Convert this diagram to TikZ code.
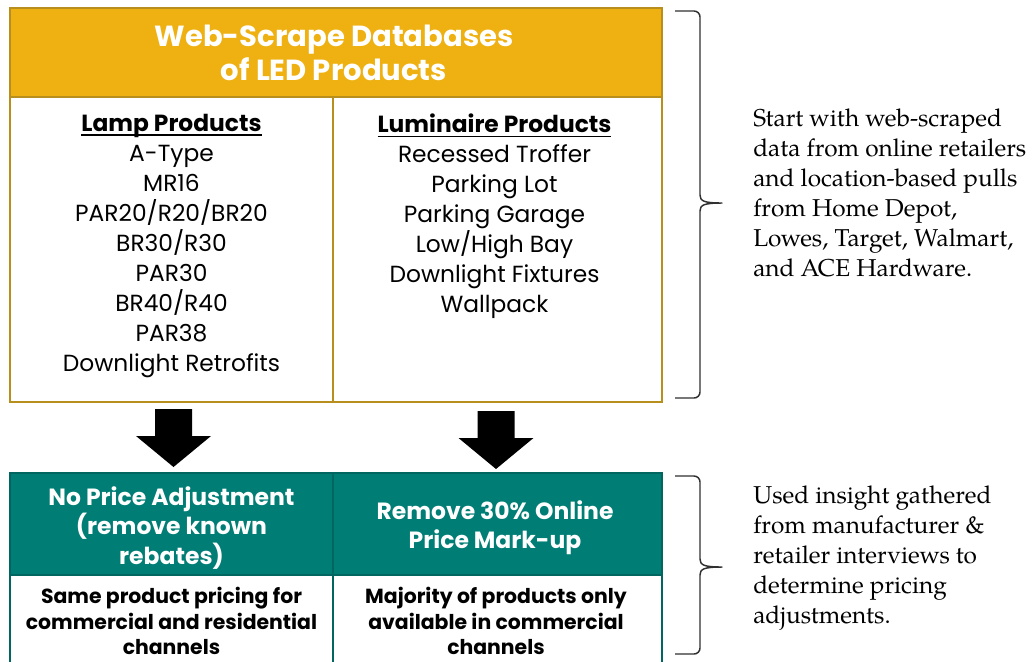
\documentclass[tikz,border=0pt]{standalone}
\usepackage{fontspec}
\setsansfont{Poppins}
\newfontfamily\pal[Extension=.otf,UprightFont=*-regular,BoldFont=*-bold,ItalicFont=*-italic]{texgyrepagella}
\definecolor{goldfill}{HTML}{EEB111}
\definecolor{goldline}{HTML}{B88E1C}
\definecolor{tealfill}{HTML}{007D75}
\definecolor{tealline}{HTML}{00665F}
\definecolor{bracecol}{HTML}{303030}
\newcommand\myul[1]{\setbox0\hbox{#1}\rlap{\rule[-3.4pt]{\wd0}{1.2pt}}\box0}
\tikzset{
  hdrtext/.style={text=white, align=center, inner sep=0pt, font=\sffamily\bfseries\fontsize{21.8}{26}\selectfont},
  listtext/.style={text=black, align=center, inner sep=0pt, font=\sffamily\fontsize{17.5}{22.5}\selectfont},
  tealtext/.style={text=white, align=center, inner sep=0pt, font=\sffamily\bfseries\fontsize{17.6}{22}\selectfont},
  notetext/.style={text=black, align=center, inner sep=0pt, font=\sffamily\bfseries\fontsize{15.3}{19.1}\selectfont},
  sidetext/.style={text=black, align=left, inner sep=0pt, anchor=north west, font=\pal\fontsize{18.3}{22.5}\selectfont},
  goldborder/.style={draw=goldline, line width=2.2pt},
  tealborder/.style={draw=tealline, line width=2.2pt},
  bracket/.style={draw=bracecol, line width=1.1pt, line join=round},
  blockarrow/.pic={\fill[black] (-18.5,0) -- (18.5,0) -- (18.5,27) -- (37.5,27) -- (0,58) -- (-37.5,27) -- (-18.5,27) -- cycle;}
}
\begin{document}
\begin{tikzpicture}[x=0.75pt,y=-0.75pt]
\useasboundingbox (0,0) rectangle (1034,661);
\clip (0,0) rectangle (1034,661);
% ---------- top box ----------
\fill[goldfill] (10,8) rectangle (662,97);
\path[goldborder] (10,8) rectangle (662,402);
\path[goldborder] (10,97) -- (662,97);
\path[goldborder] (333,97) -- (333,402);
\node[hdrtext] (title) at (334,53) {Web-Scrape Databases\\of LED Products};
\node[listtext, anchor=north] (lamp) at (171.5,114) {\textbf{\myul{Lamp Products}}\\A-Type\\MR16\\PAR20/R20/BR20\\BR30/R30\\PAR30\\BR40/R40\\PAR38\\Downlight Retrofits};
\node[listtext, anchor=north] (lum) at (494.5,114) {\textbf{\myul{Luminaire Products}}\\Recessed Troffer\\Parking Lot\\Parking Garage\\Low/High Bay\\Downlight Fixtures\\Wallpack};
% ---------- arrows ----------
\coordinate (arrL) at (173.5,409);
\coordinate (arrR) at (496,411);
\pic at (arrL) {blockarrow};
\pic at (arrR) {blockarrow};
% ---------- bottom box ----------
\fill[tealfill] (10,473) rectangle (662,575);
\path[tealborder] (10,473) rectangle (662,672);
\path[tealborder] (10,575) -- (662,575);
\path[tealborder] (333,473) -- (333,672);
\node[tealtext] (noadj) at (171.5,528) {No Price Adjustment\\(remove known\\rebates)};
\node[tealtext] (remove) at (495,528) {Remove 30\% Online\\Price Mark-up};
\node[notetext] (same) at (171.5,621) {Same product pricing for\\commercial and residential\\channels};
\node[notetext] (major) at (496,621) {Majority of products only\\available in commercial\\channels};
% ---------- brackets ----------
\path[bracket] (675,11) -- (694,11) to[out=0,in=90] (700,17) -- (700,195)
   .. controls (700,201) and (704,203) .. (722,203)
   .. controls (704,203) and (700,205) .. (700,211) -- (700,392)
   to[out=-90,in=0] (694,398) -- (675,398);
\path[bracket] (675,476) -- (694,476) to[out=0,in=90] (700,482) -- (700,559)
   .. controls (700,565) and (704,567) .. (722,567)
   .. controls (704,567) and (700,569) .. (700,575) -- (700,648)
   to[out=-90,in=0] (694,654) -- (675,654);
% ---------- side notes ----------
\node[sidetext] (note1) at (753,109) {Start with web-scraped\\data from online retailers\\and location-based pulls\\from Home Depot,\\Lowes, Target, Walmart,\\and ACE Hardware.};
\node[sidetext] (note2) at (753,486) {Used insight gathered\\from manufacturer \&\\retailer interviews to\\determine pricing\\adjustments.};
\end{tikzpicture}
\end{document}
